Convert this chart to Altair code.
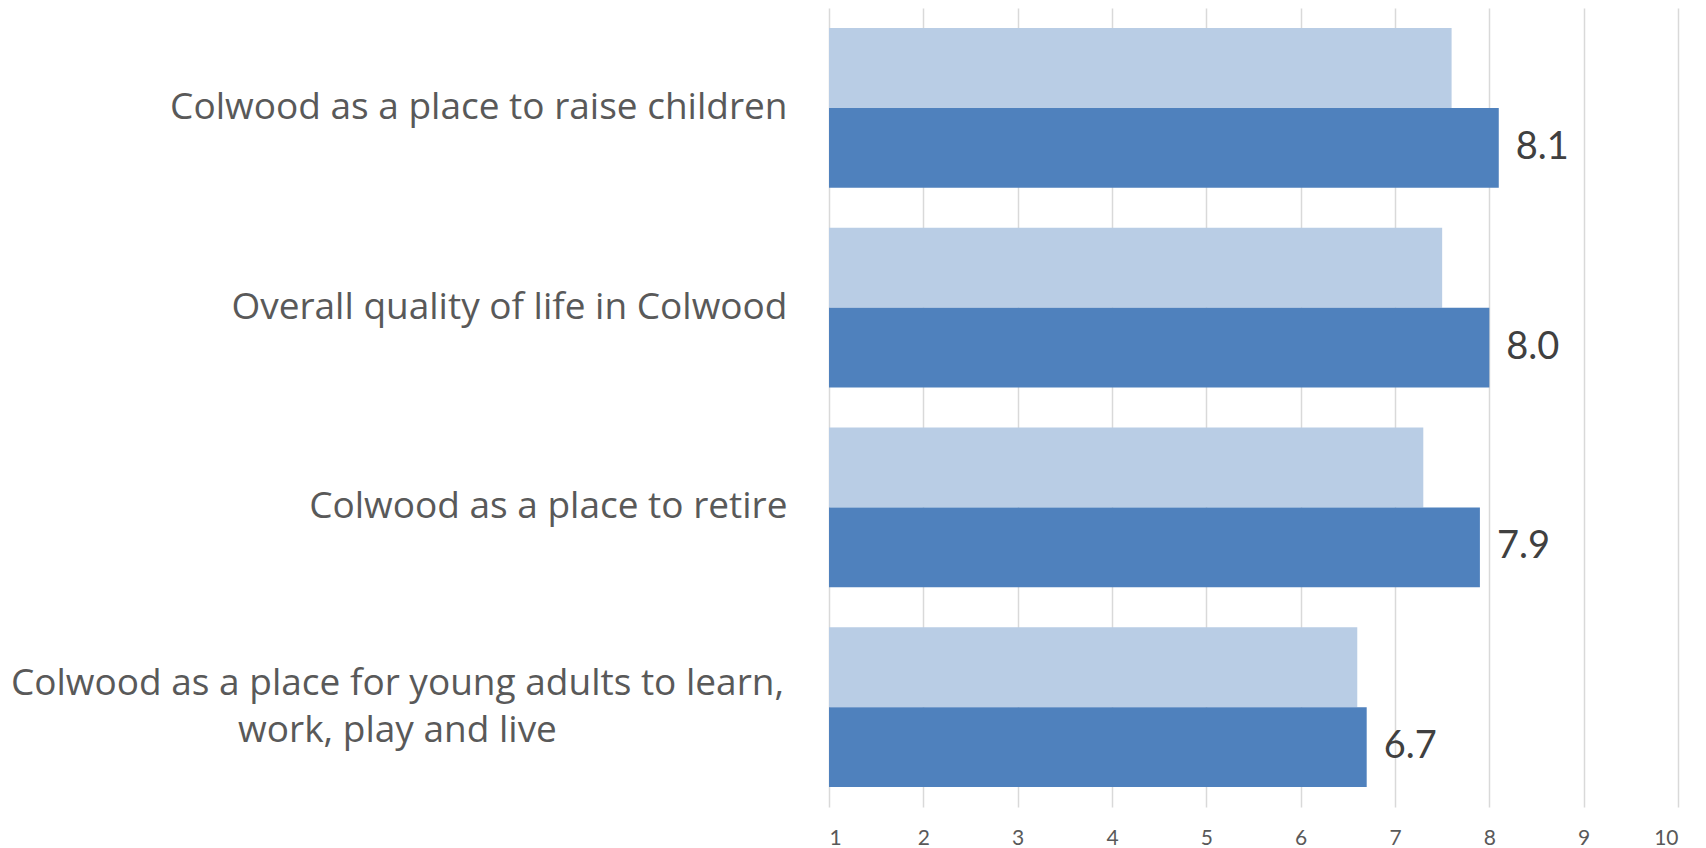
import altair as alt
import pandas as pd

categories = [
    "Colwood as a place to raise children",
    "Overall quality of life in Colwood",
    "Colwood as a place to retire",
    "Colwood as a place for young adults to learn,\nwork, play and live",
]
series = ["Previous", "Current"]
previous_values = [7.6, 7.5, 7.3, 6.6]
current_values = [8.1, 8.0, 7.9, 6.7]
x_ticks = [1, 2, 3, 4, 5, 6, 7, 8, 9, 10]
colors = ["#B9CDE5", "#4F81BD"]

rows = []
for c, p, v in zip(categories, previous_values, current_values):
    rows.append({"category": c, "series": "Previous", "value": p})
    rows.append({"category": c, "series": "Current", "value": v})
df = pd.DataFrame(rows)

multi_test = "indexof(datum.value, '\\n') >= 0"

y_enc = alt.Y(
    "category:N",
    sort=categories,
    scale=alt.Scale(paddingInner=0.2, paddingOuter=0.1),
    axis=alt.Axis(
        title=None,
        domain=False,
        ticks=False,
        labelFont="Open Sans",
        labelFontSize=37,
        labelColor="#595959",
        labelLineHeight=47,
        labelLimit=0,
        labelExpr="split(datum.label, '\\n')",
        labelAlign={"condition": {"test": multi_test, "value": "center"}, "value": "right"},
        labelPadding={"condition": {"test": multi_test, "value": 432}, "value": 42},
        labelOffset={"condition": {"test": multi_test, "value": -23}, "value": 0},
        minExtent=821,
        maxExtent=821,
    ),
)
yoff_enc = alt.YOffset("series:N", sort=series, scale=alt.Scale(domain=series, paddingInner=0, paddingOuter=0))
x_enc = alt.X(
    "value:Q",
    scale=alt.Scale(domain=[1, 10], nice=False, zero=False),
    axis=alt.Axis(
        values=x_ticks,
        format="d",
        title=None,
        domain=False,
        ticks=False,
        grid=True,
        gridColor="#D9D9D9",
        gridWidth=1.5,
        labelFont="Lato",
        labelFontSize=21,
        labelColor="#595959",
        labelPadding=20,
    ),
)

bars = alt.Chart(df).mark_bar().encode(
    y=y_enc,
    yOffset=yoff_enc,
    x=x_enc,
    x2=alt.datum(1),
    color=alt.Color("series:N", scale=alt.Scale(domain=series, range=colors), legend=None),
)

labels = alt.Chart(df).transform_filter(alt.datum.series == "Current").mark_text(
    align="left", baseline="middle", dx=17, font="Lato", fontSize=38, color="#404040"
).encode(
    y=y_enc,
    yOffset=yoff_enc,
    x=alt.X("value:Q"),
    text=alt.Text("value:Q", format=".1f"),
)

chart = alt.layer(bars, labels).properties(
    width=849,
    height=799,
    padding={"left": 0, "top": 0, "right": 5, "bottom": 0},
).configure_view(stroke=None)

chart.save("out.html", embed_options={"renderer": "svg", "actions": False})
